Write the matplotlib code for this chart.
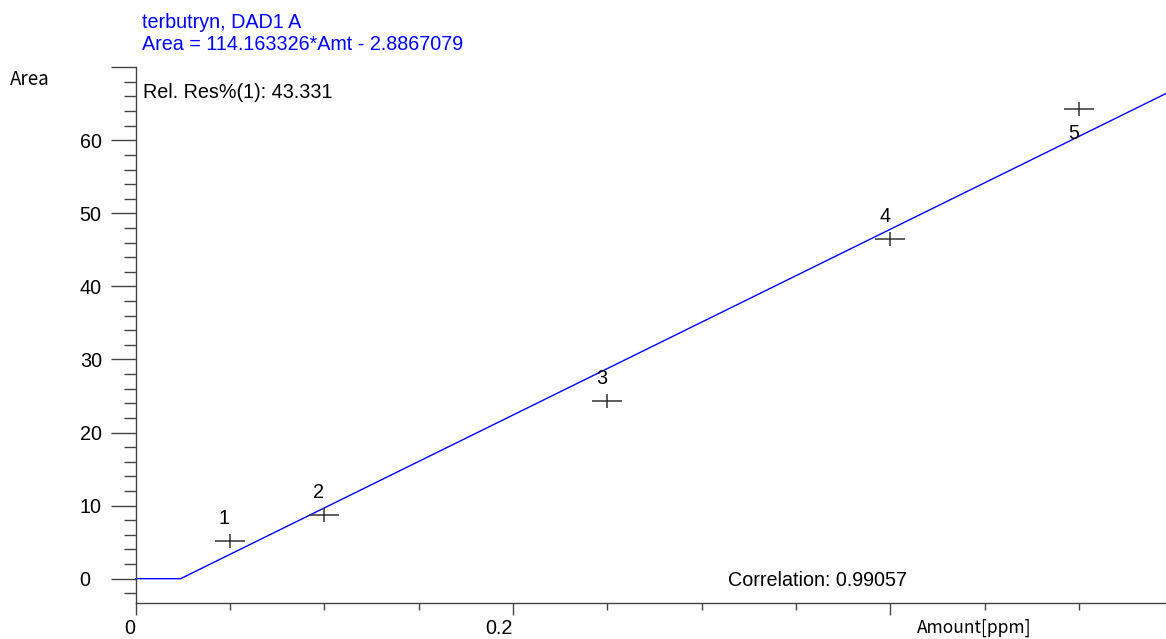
import matplotlib
matplotlib.use("Agg")
import matplotlib.pyplot as plt
from matplotlib.path import Path
import numpy as np

# ---- data ----
amounts = [0.05, 0.10, 0.25, 0.40, 0.50]
areas = [5.20, 8.72, 24.36, 46.49, 64.28]
point_labels = ["1", "2", "3", "4", "5"]

line_x = [0.0, 0.0238, 0.546]
line_y = [0.0, 0.0, 66.4]

x_major = [0.0, 0.2, 0.4]
x_major_labels = ["0", "0.2", ""]
x_minor = [0.05, 0.10, 0.15, 0.25, 0.30, 0.35, 0.45, 0.50]
y_major = [0, 10, 20, 30, 40, 50, 60, 70]
y_major_labels = ["0", "10", "20", "30", "40", "50", "60", ""]
y_minor = [-2, 2, 4, 6, 8, 12, 14, 16, 18, 22, 24, 26, 28, 32, 34, 36, 38,
           42, 44, 46, 48, 52, 54, 56, 58, 62, 64, 66, 68]

title_line1 = "terbutryn, DAD1 A"
title_line2 = "Area = 114.163326*Amt - 2.8867079"
relres_text = "Rel. Res%(1): 43.331"
corr_text = "Correlation: 0.99057"

W, H, DPI = 1166, 639, 100
fig = plt.figure(figsize=(W / DPI, H / DPI), dpi=DPI)
ax = fig.add_axes([135.7 / W, 1 - 603.3 / H, 1 - 135.7 / W, (603.3 - 66.7) / H])
ax.set_xlim(0, 0.546)
ax.set_ylim(-3.37, 70.07)

FS = 14.2
base_font = "Liberation Sans"
jp_font = ["Noto Sans CJK JP", "DejaVu Sans"]
axis_col = "#444444"

for s in ["top", "right"]:
    ax.spines[s].set_visible(False)
for s in ["left", "bottom"]:
    ax.spines[s].set_color(axis_col)
    ax.spines[s].set_linewidth(1.0)
    ax.spines[s].set_clip_on(False)

# fit line
ax.plot(line_x, line_y, color="#0000ff", lw=1.0, clip_on=False, zorder=2)

# cross markers (wide horizontal arm)
cross = Path([(-1, 0), (1, 0), (0, -0.45), (0, 0.45)],
             [Path.MOVETO, Path.LINETO, Path.MOVETO, Path.LINETO])
ax.plot(amounts, areas, linestyle="none", marker=cross, markersize=22,
        markeredgecolor="#333333", markeredgewidth=1.1, zorder=3)

for i, (xv, yv, lab) in enumerate(zip(amounts, areas, point_labels)):
    if i == len(amounts) - 1:
        off, va = (-4, -11), "top"
    else:
        off, va = (-4, 9), "bottom"
    ax.annotate(lab, (xv, yv), xytext=off, textcoords="offset points",
                ha="center", va=va, fontsize=FS, family=base_font, color="black")

# ticks
ax.set_xticks(x_major)
ax.set_xticklabels(x_major_labels)
ax.set_xticks(x_minor, minor=True)
ax.set_yticks(y_major)
ax.set_yticklabels(y_major_labels)
ax.set_yticks(y_minor, minor=True)

ax.tick_params(axis="x", which="major", direction="out", length=8.6, width=1.0,
               color=axis_col, pad=3, labelsize=FS)
ax.tick_params(axis="x", which="minor", direction="out", length=5, width=1.0,
               color=axis_col)
ax.tick_params(axis="y", which="major", direction="out", length=18, width=1.0,
               color=axis_col, pad=22.3, labelsize=FS)
ax.tick_params(axis="y", which="minor", direction="out", length=8.6, width=1.0,
               color=axis_col)
for lbl in ax.get_xticklabels():
    lbl.set_ha("right")
    lbl.set_family(base_font)
for lbl in ax.get_yticklabels():
    lbl.set_ha("left")
    lbl.set_family(base_font)

# texts
fig.text(142 / W, 1 - 28 / H, title_line1, color="#0000ff", fontsize=FS,
         family=base_font, ha="left", va="baseline")
fig.text(142 / W, 1 - 50 / H, title_line2, color="#0000ff", fontsize=FS,
         family=base_font, ha="left", va="baseline")
fig.text(143 / W, 1 - 97.5 / H, relres_text, color="black", fontsize=FS,
         family=base_font, ha="left", va="baseline")
fig.text(728 / W, 1 - 586 / H, corr_text, color="black", fontsize=FS,
         family=base_font, ha="left", va="baseline")
fig.text(10 / W, 1 - 85 / H, "Area", color="black", fontsize=13.5,
         family=jp_font, ha="left", va="baseline")
fig.text(917 / W, 1 - 633 / H, "Amount[ppm]", color="black", fontsize=12.5,
         family=jp_font, ha="left", va="baseline")

fig.savefig("out.png", dpi=DPI)
